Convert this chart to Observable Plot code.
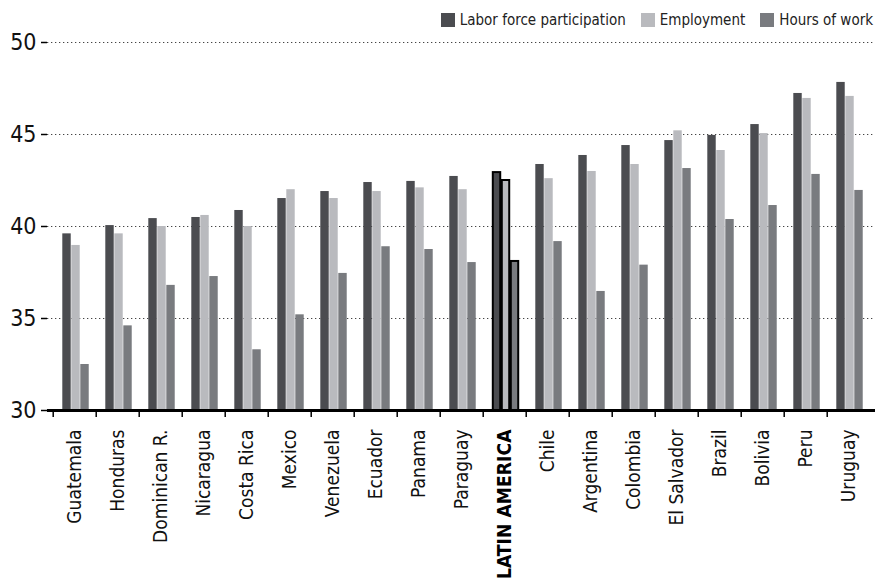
<!DOCTYPE html>
<html>
<head>
<meta charset="utf-8">
<script src="https://cdn.jsdelivr.net/npm/d3@7"></script>
<script src="https://cdn.jsdelivr.net/npm/@observablehq/plot@0.6"></script>
<style>
  html, body { margin: 0; padding: 0; background: #fff; }
  #wrap { position: relative; width: 875px; height: 586px; font-family: "DejaVu Sans Condensed", sans-serif; }
  #legend { position: absolute; top: 11px; right: 2px; display: flex; align-items: center; font-size: 15px; color: #222; white-space: nowrap; }
  #legend .item { display: flex; align-items: center; margin-right: 15px; }
  #legend .item:last-child { margin-right: 0; }
  #legend .sw { width: 14px; height: 14px; margin-right: 5px; }
</style>
</head>
<body>
<div id="wrap"><div id="legend"></div></div>
<script>
const countries = ["Guatemala", "Honduras", "Dominican R.", "Nicaragua", "Costa Rica", "Mexico", "Venezuela", "Ecuador", "Panama", "Paraguay", "LATIN AMERICA", "Chile", "Argentina", "Colombia", "El Salvador", "Brazil", "Bolivia", "Peru", "Uruguay"];
const laborForce = [39.6, 40.05, 40.43, 40.49, 40.87, 41.52, 41.9, 42.39, 42.45, 42.72, 42.93, 43.37, 43.86, 44.4, 44.67, 44.95, 45.54, 47.23, 47.83];
const employment = [38.97, 39.6, 40.0, 40.6, 40.0, 42.0, 41.52, 41.9, 42.1, 42.0, 42.5, 42.6, 42.99, 43.37, 45.2, 44.13, 45.05, 46.96, 47.07];
const hoursOfWork = [32.5, 34.6, 36.8, 37.28, 33.3, 35.2, 37.45, 38.9, 38.75, 38.04, 38.1, 39.18, 36.47, 37.9, 43.15, 40.38, 41.14, 42.83, 41.96];
const seriesNames = ["Labor force participation", "Employment", "Hours of work"];
const seriesColors = ["#4b4c50", "#b9babe", "#797b7f"];
const yTicks = [30, 35, 40, 45, 50];
const highlight = "LATIN AMERICA";

const seriesValues = [laborForce, employment, hoursOfWork];
const rows = [];
countries.forEach((c, i) => seriesValues.forEach((vals, s) => rows.push({country: c, series: s, value: vals[i]})));

const W = 875, H = 586, ML = 47, MR = 0;
const bw = (W - ML - MR) / countries.length;
const barW = 9, firstOffset = 9.3;
const FONT = "DejaVu Sans Condensed, sans-serif";

const barMarks = [];
for (let s = 0; s < 3; s++) {
  const left = firstOffset + s * barW;
  const right = bw - left - barW;
  barMarks.push(Plot.barY(rows.filter(d => d.series === s && d.country !== highlight), {
    x: "country", y1: 30, y2: "value", fill: seriesColors[s], insetLeft: left, insetRight: right
  }));
  barMarks.push(Plot.barY(rows.filter(d => d.series === s && d.country === highlight), {
    x: "country", y1: 30, y2: "value", fill: seriesColors[s], stroke: "#000", strokeWidth: 2, insetLeft: left + 0.5, insetRight: right + 0.5
  }));
}

const chart = Plot.plot({
  width: W, height: H,
  marginLeft: ML, marginRight: MR, marginTop: 42, marginBottom: 176,
  style: {fontFamily: FONT, background: "transparent", color: "#111"},
  x: {domain: countries, padding: 0, label: null},
  y: {domain: [30, 50], label: null},
  marks: [
    Plot.ruleY(yTicks.filter(t => t > 30), {stroke: "#444", strokeWidth: 1.2, strokeDasharray: "1.3,2.7"}),
    ...barMarks,
    Plot.axisY(yTicks, {tickSize: 6, tickPadding: 5, fontSize: 23, stroke: "#000", strokeWidth: 1.5, fill: "#111"}),
    Plot.axisX(countries, {tickSize: 7, dx: -bw / 2, tickFormat: () => "", stroke: "#000", strokeWidth: 1.5}),
    Plot.axisX(countries.filter(c => c !== highlight), {tickSize: 0, tickPadding: 19, tickRotate: -90, fontSize: 19, fill: "#111"}),
    Plot.axisX([highlight], {tickSize: 0, tickPadding: 19, tickRotate: -90, fontSize: 19.2, fontWeight: "bold", fill: "#000"}),
    Plot.ruleX([30], {x: () => null, frameAnchor: "left", stroke: "#000", strokeWidth: 2.5}),
    Plot.ruleY([30], {stroke: "#000", strokeWidth: 3})
  ]
});
document.getElementById("wrap").prepend(chart);

const legend = document.getElementById("legend");
seriesNames.forEach((n, i) => {
  const it = document.createElement("div");
  it.className = "item";
  it.innerHTML = `<div class="sw" style="background:${seriesColors[i]}"></div><span>${n}</span>`;
  legend.appendChild(it);
});
</script>
</body>
</html>
